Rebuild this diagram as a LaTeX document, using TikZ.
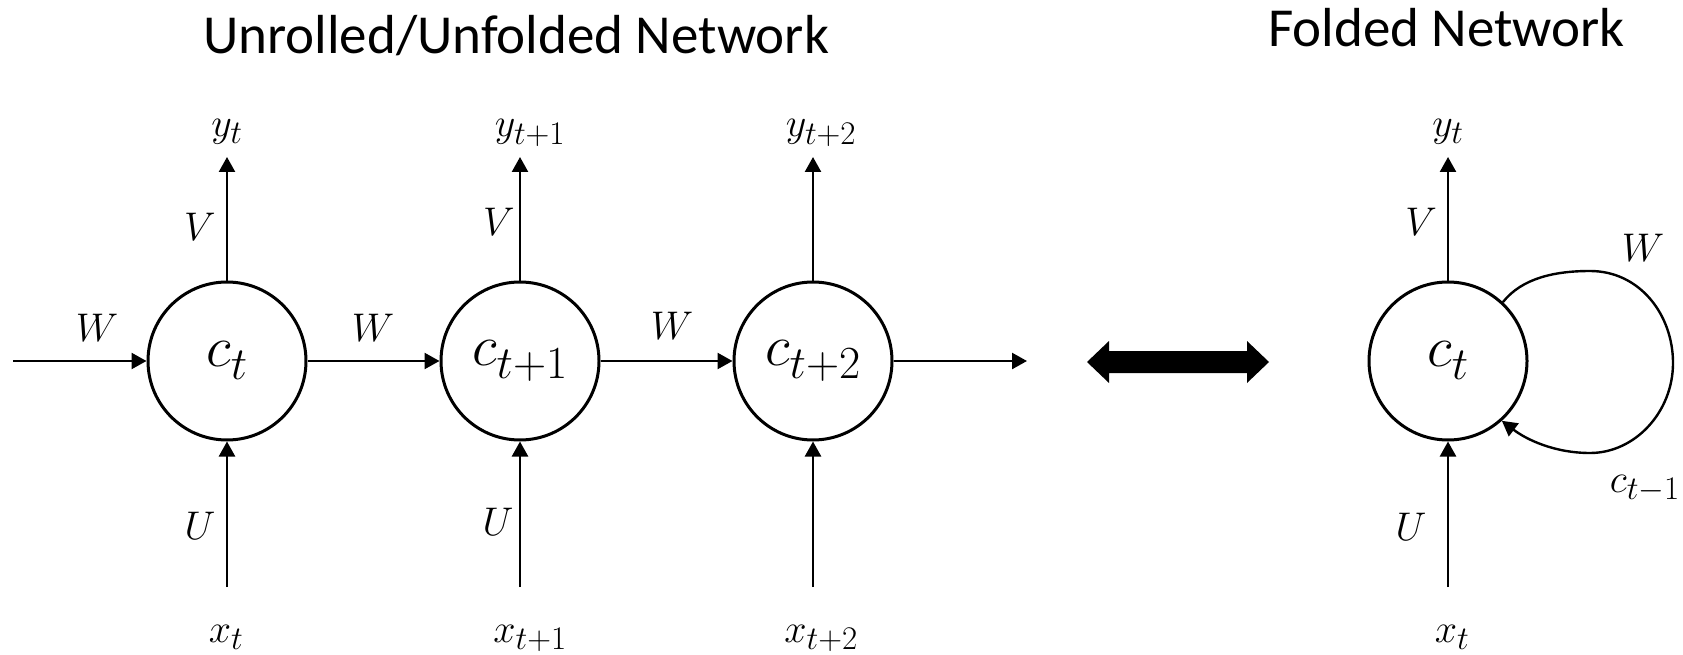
\RequirePackage{fix-cm}
\documentclass[tikz,border=0pt]{standalone}
\usepackage[no-math]{fontspec}
\newfontfamily\titlefont{Carlito}
\usetikzlibrary{arrows.meta}
% larger subscripts than the default 0.7 ratio
\DeclareMathSizes{58}{58}{46}{34}
\DeclareMathSizes{40}{40}{33}{24}
% math symbol with a subscript set lower than usual
\newcommand\subsym[3]{$\fontdimen16\textfont2=#1 #2_{#3}$}

\begin{document}
\begin{tikzpicture}[x=1pt,y=-1pt,
  unit/.style={circle, draw, line width=3pt, minimum size=158pt, inner sep=0pt,
               font=\fontsize{58}{62}\selectfont},
  lbl/.style={font=\fontsize{40}{44}\selectfont, inner sep=0pt},
  ttl/.style={font=\titlefont\fontsize{55}{60}\selectfont, inner sep=0pt, anchor=base west},
  conn/.style={line width=2.4pt, -{Triangle[length=15pt,width=16pt]}}]

\useasboundingbox (0,0) rectangle (1683,655);

% titles
\node[ttl] (tunroll) at (203,54) {Unrolled/Unfolded Network};
\node[ttl] (tfold) at (1268,47) {Folded Network};

% recurrent units
\node[unit] (c1) at (227,361) {\subsym{13pt}{c}{t}};
\node[unit] (c2) at (520,361) {\subsym{13pt}{c}{t+1}};
\node[unit] (c3) at (813,361) {\subsym{13pt}{c}{t+2}};
\node[unit] (cf) at (1448,361) {\subsym{13pt}{c}{t}};

% free ends of the input, output and chain lines
\coordinate (in0) at (13,361);
\coordinate (out3) at (1027,361);
\foreach \n/\x in {1/227,2/520,3/813,f/1448}{
  \coordinate (b\n) at (\x,587);
  \coordinate (t\n) at (\x,157);
}

% chain
\draw[conn] (in0) -- (c1.west);
\draw[conn] (c1.east) -- (c2.west);
\draw[conn] (c2.east) -- (c3.west);
\draw[conn] (c3.east) -- (out3);

% inputs and outputs
\foreach \n in {1,2,3,f}{
  \draw[conn] (b\n) -- (c\n.south);
  \draw[conn] (c\n.north) -- (t\n);
}

% self loop of the folded unit
\draw[conn] (cf.47) .. controls (1522,278) and (1555,271) .. (1590,271)
  .. controls (1640,271) and (1673,315) .. (1673,363)
  .. controls (1673,412) and (1635,453) .. (1590,453)
  .. controls (1555,453) and (1527,440) .. (cf.-48);

% equivalence arrow
\fill (1087,362) -- (1109,341) -- (1109,351) -- (1247,351) -- (1247,341)
  -- (1269,362) -- (1247,383) -- (1247,373) -- (1109,373) -- (1109,383) -- cycle;

% weight labels
\node[lbl] (w1) at (97,328) {$W$};
\node[lbl] (w2) at (373,328) {$W$};
\node[lbl] (w3) at (672,326) {$W$};
\node[lbl] (wf) at (1643,248) {$W$};
\node[lbl] (v1) at (200,227) {$V$};
\node[lbl] (v2) at (499,222) {$V$};
\node[lbl] (vf) at (1421,222) {$V$};
\node[lbl] (u1) at (200,526) {$U$};
\node[lbl] (u2) at (498,522) {$U$};
\node[lbl] (uf) at (1411,527) {$U$};

% outputs
\node[lbl, anchor=base] (y1) at (227,137) {\subsym{7pt}{y}{t}};
\node[lbl, anchor=base] (y2) at (530,137) {\subsym{7pt}{y}{t+1}};
\node[lbl, anchor=base] (y3) at (821,137) {\subsym{7pt}{y}{t+2}};
\node[lbl, anchor=base] (yf) at (1448,137) {\subsym{7pt}{y}{t}};

% inputs
\node[lbl, anchor=base] (x1) at (226,642) {\subsym{7pt}{x}{t}};
\node[lbl, anchor=base] (x2) at (530,642) {\subsym{7pt}{x}{t+1}};
\node[lbl, anchor=base] (x3) at (821,642) {\subsym{7pt}{x}{t+2}};
\node[lbl, anchor=base] (xf) at (1452,642) {\subsym{7pt}{x}{t}};

% previous state
\node[lbl, anchor=base east] (cprev) at (1680,492) {\subsym{7pt}{c}{t-1}};
\end{tikzpicture}
\end{document}
